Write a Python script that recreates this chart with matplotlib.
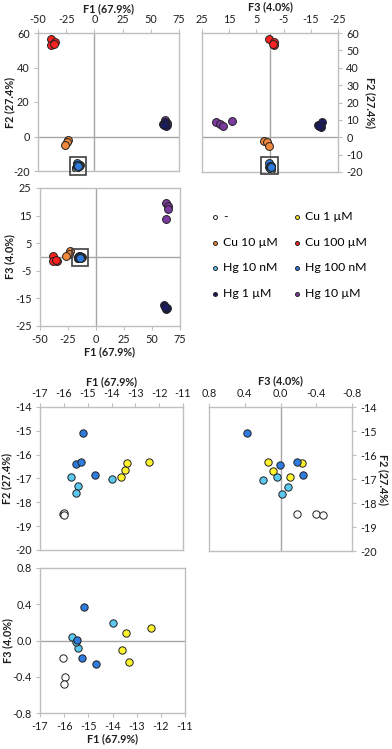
import matplotlib
matplotlib.use("Agg")
import matplotlib.pyplot as plt
from matplotlib.patches import Rectangle
from matplotlib.ticker import FormatStrFormatter

plt.rcParams["font.family"] = ["Lato", "DejaVu Sans"]
plt.rcParams["axes.unicode_minus"] = False

# group labels and colours (legend order)
labels = ["-", "Cu 1 \u00b5M", "Cu 10 \u00b5M", "Cu 100 \u00b5M",
          "Hg 10 nM", "Hg 100 nM", "Hg 1 \u00b5M", "Hg 10 \u00b5M"]
colors = ["#FFFFFF", "#FFF22E", "#F0893C", "#FF2020",
          "#5BC8F0", "#2F7BDE", "#1A1A5E", "#7A3A9E"]

# scores per group: F1, F2, F3
ctrl_f1 = [-16.05, -15.98, -16.00]
ctrl_f2 = [-18.47, -18.44, -18.52]
ctrl_f3 = [-0.19, -0.40, -0.48]

cu1_f1 = [-12.42, -13.45, -13.62, -13.33]
cu1_f2 = [-16.31, -16.65, -16.93, -16.34]
cu1_f3 = [0.14, 0.085, -0.105, -0.235]

cu10_f1 = [-23.3, -24.5, -26.5]
cu10_f2 = [-2.0, -3.0, -4.8]
cu10_f3 = [2.2, 1.1, 0.3]

cu100_f1 = [-38.8, -35.0, -38.6, -36.0]
cu100_f2 = [56.4, 54.7, 52.9, 53.6]
cu100_f3 = [0.5, -1.5, -1.3, -1.2]

hg10n_f1 = [-14.00, -15.68, -15.42, -15.49]
hg10n_f2 = [-17.03, -16.92, -17.32, -17.61]
hg10n_f3 = [0.195, 0.04, -0.08, -0.02]

hg100n_f1 = [-15.18, -15.47, -15.28, -14.70]
hg100n_f2 = [-15.08, -16.40, -16.30, -16.84]
hg100n_f3 = [0.375, 0.005, -0.19, -0.255]

hg1_f1 = [60.5, 62.5, 63.3, 61.5]
hg1_f2 = [7.0, 8.5, 5.8, 6.5]
hg1_f3 = [-17.5, -19.0, -18.6, -18.0]

hg10_f1 = [62.8, 64.5, 64.0, 62.6]
hg10_f2 = [9.0, 7.8, 6.5, 9.6]
hg10_f3 = [19.7, 18.3, 17.4, 13.8]

groups = [
    (ctrl_f1, ctrl_f2, ctrl_f3),
    (cu1_f1, cu1_f2, cu1_f3),
    (cu10_f1, cu10_f2, cu10_f3),
    (cu100_f1, cu100_f2, cu100_f3),
    (hg10n_f1, hg10n_f2, hg10n_f3),
    (hg100n_f1, hg100n_f2, hg100n_f3),
    (hg10_f1, hg10_f2, hg10_f3),
    (hg1_f1, hg1_f2, hg1_f3),
]
# navy drawn last so it sits on top of purple in the F1/F2 view
group_idx = [0, 1, 2, 3, 4, 5, 7, 6]

W, H = 392, 749
fig = plt.figure(figsize=(W / 100, H / 100), dpi=100)

SPINE = "#BFBFBF"
ZERO = "#A6A6A6"
TXT = "#1E1E1E"
lab1 = "F1 (67.9%)"
lab2 = "F2 (27.4%)"
lab3 = "F3 (4.0%)"


def add_ax(l, t, r, b):
    return fig.add_axes([l / W, 1 - b / H, (r - l) / W, (b - t) / H])


def style(ax, xtop, yright, xlab, ylab, xl_pos, yl_pos):
    for s in ax.spines.values():
        s.set_color(SPINE)
        s.set_linewidth(1.0)
    ax.tick_params(colors=SPINE, labelcolor=TXT, labelsize=7.8, length=3,
                   width=0.8, pad=3)
    if xtop:
        ax.xaxis.tick_top()
        ax.xaxis.set_label_position("top")
    if yright:
        ax.yaxis.tick_right()
        ax.yaxis.set_label_position("right")
        ax.set_ylabel(ylab, fontsize=7.8, fontweight="bold", rotation=-90,
                      color=TXT, va="center")
    else:
        ax.set_ylabel(ylab, fontsize=7.8, fontweight="bold", color=TXT, va="center")
    ax.set_xlabel(xlab, fontsize=7.8, fontweight="bold", color=TXT, va="center")
    ax.xaxis.set_label_coords(0.5, xl_pos)
    ax.yaxis.set_label_coords(yl_pos, 0.5)


def draw(ax, xi, yi, s):
    handles = []
    for k in range(8):
        g = group_idx[k]
        data = groups[k]
        h = ax.scatter(data[xi], data[yi], s=s, c=colors[g], edgecolors="#202020",
                       linewidths=0.7, zorder=3, label=labels[g])
        handles.append((g, h))
    return handles


# A: F1 vs F2
axA = add_ax(38, 33, 179, 171)
draw(axA, 0, 1, 32)
axA.set_xlim(-50, 75)
axA.set_ylim(-20, 60)
axA.set_xticks([-50, -25, 0, 25, 50, 75])
axA.set_yticks([-20, 0, 20, 40, 60])
axA.axvline(0, color=ZERO, lw=1, zorder=1)
axA.axhline(0, color=ZERO, lw=1, zorder=1)
style(axA, True, False, lab1, lab2, 1.174, -0.199)
axA.add_patch(Rectangle((-22, -22.3), 14.6, 10.5, fill=False, ec="#404040",
                        lw=1.2, clip_on=False, zorder=4))

# B: F3 vs F2
axB = add_ax(202, 33, 338, 172)
draw(axB, 2, 1, 32)
axB.set_xlim(25, -25)
axB.set_ylim(-20, 60)
axB.set_xticks([25, 15, 5, -5, -15, -25])
axB.set_yticks([-20, -10, 0, 10, 20, 30, 40, 50, 60])
axB.axvline(0, color=ZERO, lw=1, zorder=1)
axB.axhline(0, color=ZERO, lw=1, zorder=1)
style(axB, True, True, lab3, lab2, 1.187, 1.235)
axB.add_patch(Rectangle((-3.0, -21.4), 6.3, 10.0, fill=False, ec="#404040",
                        lw=1.2, clip_on=False, zorder=4))

# C: F1 vs F3
axC = add_ax(40, 188, 180, 326)
handles = draw(axC, 0, 2, 32)
axC.set_xlim(-50, 75)
axC.set_ylim(-25, 25)
axC.set_xticks([-50, -25, 0, 25, 50, 75])
axC.set_yticks([-25, -15, -5, 5, 15, 25])
axC.axvline(0, color=ZERO, lw=1, zorder=1)
axC.axhline(0, color=ZERO, lw=1, zorder=1)
style(axC, False, False, lab1, lab3, -0.188, -0.214)
axC.add_patch(Rectangle((-21.7, -3.4), 14.9, 6.4, fill=False, ec="#404040",
                        lw=1.2, clip_on=False, zorder=4))

# legend (rows: -, Cu1 / Cu10, Cu100 / Hg10n, Hg100n / Hg1, Hg10)
hmap = dict(handles)
order = [0, 2, 4, 6, 1, 3, 5, 7]
fig.legend([hmap[i] for i in order], [labels[i] for i in order], ncol=2,
           loc="upper left", bbox_to_anchor=(203 / W, 1 - 205 / H), frameon=False,
           fontsize=8.8, markerscale=0.5, handletextpad=0.15, handlelength=1.0,
           labelspacing=1.2, columnspacing=1.05, borderpad=0)

# D: zoom F1 vs F2
axD = add_ax(40, 407, 183, 550)
draw(axD, 0, 1, 28)
axD.set_xlim(-17, -11)
axD.set_ylim(-20, -14)
axD.set_xticks(range(-17, -10))
axD.set_yticks(range(-20, -13))
style(axD, True, False, lab1, lab2, 1.175, -0.23)

# E: zoom F3 vs F2
axE = add_ax(209, 407, 352, 551)
draw(axE, 2, 1, 28)
axE.set_xlim(0.8, -0.8)
axE.set_ylim(-20, -14)
axE.set_xticks([0.8, 0.4, 0.0, -0.4, -0.8])
axE.set_yticks(range(-20, -13))
axE.xaxis.set_major_formatter(FormatStrFormatter("%.1f"))
axE.axvline(0, color=ZERO, lw=1, zorder=1)
style(axE, True, True, lab3, lab2, 1.18, 1.217)

# F: zoom F1 vs F3
axF = add_ax(40, 568, 185, 713)
draw(axF, 0, 2, 28)
axF.set_xlim(-17, -11)
axF.set_ylim(-0.8, 0.8)
axF.set_xticks(range(-17, -10))
axF.set_yticks([-0.8, -0.4, 0.0, 0.4, 0.8])
axF.yaxis.set_major_formatter(FormatStrFormatter("%.1f"))
axF.axhline(0, color=ZERO, lw=1, zorder=1)
style(axF, False, False, lab1, lab3, -0.179, -0.22)

fig.savefig("out.png", dpi=100, facecolor="white")
